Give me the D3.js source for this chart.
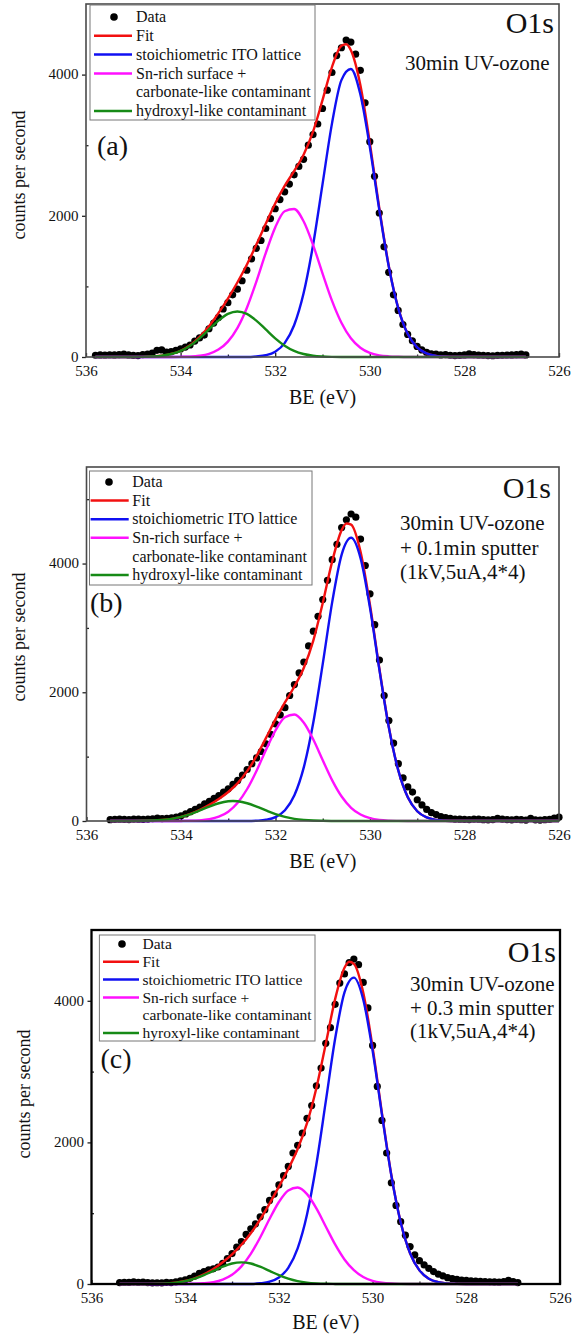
<!DOCTYPE html>
<html>
<head>
<meta charset="utf-8">
<script src="https://cdn.jsdelivr.net/npm/d3@7"></script>
<style>
  body { margin: 0; background: #fff; }
  svg { display: block; }
  text { font-family: "Liberation Serif", "Times New Roman", serif; fill: #111; }
</style>
</head>
<body>
<div id="chart"></div>
<script>
// ---- data ----
const xTicks = [536, 534, 532, 530, 528, 526];
const xMinorTicks = [535, 533, 531, 529, 527];
const yTicks = [0, 2000, 4000];

const legendA = ['Data', 'Fit', 'stoichiometric ITO lattice', 'Sn-rich surface +', 'carbonate-like contaminant', 'hydroxyl-like contaminant'];
const legendB = ['Data', 'Fit', 'stoichiometric ITO lattice', 'Sn-rich surface +', 'carbonate-like contaminant', 'hydroxyl-like contaminant'];
const legendC = ['Data', 'Fit', 'stoichiometric ITO lattice', 'Sn-rich surface +', 'carbonate-like contaminant', 'hyroxyl-like contaminant'];
const legendKeys = ['data', 'fit', 'lattice', 'snrich', null, 'hydroxyl'];

const notesA = ['30min UV-ozone'];
const notesB = ['30min UV-ozone', '+ 0.1min sputter', '(1kV,5uA,4*4)'];
const notesC = ['30min UV-ozone', '+ 0.3 min sputter', '(1kV,5uA,4*4)'];

// measured points: first binding energy, 0.1 eV channel step, counts per second
const startA = 535.8;
const cpsA = [25, 30, 28, 32, 30, 35, 42, 30, 22, 20,
  35, 40, 55, 95, 100, 70, 75, 95, 115, 140,
  170, 225, 270, 310, 400, 480, 560, 680, 770, 880,
  960, 1080, 1230, 1390, 1540, 1650, 1820, 1960, 2100, 2230,
  2340, 2450, 2580, 2700, 2800, 3000, 3150, 3300, 3520, 3780,
  4030, 4270, 4380, 4490, 4460, 4290, 4060, 3600, 3050, 2560,
  2040, 1560, 1200, 880, 660, 460, 320, 230, 150, 100,
  65, 45, 40, 30, 35, 25, 20, 22, 30, 45,
  35, 28, 25, 20, 18, 22, 25, 28, 30, 35,
  40, 30];

const startB = 535.5;
const cpsB = [20, 25, 28, 25, 22, 30, 28, 25, 30, 35,
  45, 38, 40, 50, 62, 80, 110, 145, 180, 215,
  265, 305, 350, 395, 450, 500, 570, 630, 715, 800,
  890, 980, 1080, 1200, 1345, 1510, 1650, 1760, 1950, 2120,
  2300, 2470, 2720, 2950, 3180, 3440, 3740, 4060, 4300, 4560,
  4680, 4770, 4720, 4380, 3970, 3530, 3050, 2500, 1950, 1560,
  1210, 890, 670, 530, 450, 330, 250, 180, 130, 100,
  70, 52, 40, 30, 28, 25, 22, 30, 28, 20,
  18, 22, 40, 30, 22, 18, 25, 20, 15, 40,
  18, 15, 20, 25, 45, 60];

const startC = 535.4;
const cpsC = [20, 25, 22, 30, 25, 28, 20, 15, 18, 15,
  22, 20, 30, 45, 60, 80, 110, 150, 175, 200,
  215, 240, 290, 360, 430, 520, 600, 700, 780, 850,
  950, 1050, 1180, 1270, 1400, 1530, 1660, 1850, 1960, 2130,
  2340, 2520, 2800, 3050, 3400, 3620, 3950, 4250, 4380, 4540,
  4590, 4510, 4260, 3900, 3370, 2790, 2310, 1850, 1430, 1110,
  880, 690, 530, 410, 330, 270, 220, 175, 140, 115,
  90, 75, 65, 55, 50, 45, 40, 38, 35, 32,
  30, 28, 35, 50, 35, 20];

// fitted curves as [BE, cps] pairs
const fitA = [[535.8,0],[535.2,0],[535.0,1],[534.8,2],[534.6,7],[534.4,18],[534.2,43],[534.0,89],[533.8,167],[533.6,283],[533.4,436],[533.2,621],[533.0,828],[532.8,1055],[532.6,1307],[532.4,1589],[532.2,1888],[532.0,2175],[531.8,2423],[531.6,2634],[531.4,2866],[531.2,3192],[531.0,3638],[530.8,4107],[530.6,4408],[530.5,4430],[530.4,4345],[530.2,3853],[530.0,3036],[529.8,2112],[529.6,1294],[529.4,696],[529.2,328],[529.0,136],[528.8,50],[528.6,16],[528.4,4],[528.2,0],[526.7,0]];
const latticeA = [[535.8,0],[532.6,0],[532.4,8],[532.2,25],[532.0,75],[531.8,197],[531.6,450],[531.4,902],[531.2,1585],[531.0,2445],[530.8,3306],[530.6,3922],[530.4,4079],[530.2,3721],[530.0,2977],[529.8,2088],[529.6,1285],[529.4,693],[529.2,328],[529.0,136],[528.8,50],[528.6,16],[528.4,4],[528.2,0],[526.7,0]];
const snrichA = [[535.8,0],[534.2,0],[534.0,2],[533.8,6],[533.6,18],[533.4,45],[533.2,105],[533.0,218],[532.8,410],[532.6,695],[532.4,1065],[532.2,1472],[532.0,1835],[531.8,2065],[531.6,2097],[531.4,1922],[531.2,1589],[531.0,1186],[530.8,799],[530.6,486],[530.4,266],[530.2,132],[530.0,59],[529.8,24],[529.6,9],[529.4,3],[529.2,0],[526.7,0]];
const hydroxylA = [[535.8,0],[535.2,0],[535.0,1],[534.8,2],[534.6,7],[534.4,18],[534.2,42],[534.0,87],[533.8,161],[533.6,265],[533.4,391],[533.2,516],[533.0,610],[532.8,645],[532.6,610],[532.4,516],[532.2,391],[532.0,265],[531.8,161],[531.6,87],[531.4,42],[531.2,18],[531.0,7],[530.8,2],[530.6,0],[526.7,0]];

const fitB = [[535.5,0],[535.2,0],[535.0,1],[534.8,3],[534.6,7],[534.4,17],[534.2,34],[534.0,65],[533.8,111],[533.6,174],[533.4,252],[533.2,343],[533.0,451],[532.8,589],[532.6,774],[532.4,1011],[532.2,1291],[532.0,1578],[531.8,1842],[531.6,2089],[531.4,2381],[531.2,2803],[531.0,3388],[530.8,4034],[530.6,4519],[530.5,4623],[530.4,4605],[530.2,4184],[530.0,3355],[529.8,2361],[529.6,1455],[529.4,784],[529.2,369],[529.0,152],[528.8,55],[528.6,17],[528.4,5],[528.2,0],[526.0,0]];
const latticeB = [[535.5,0],[532.6,0],[532.4,5],[532.2,19],[532.0,61],[531.8,167],[531.6,400],[531.4,837],[531.2,1530],[531.0,2441],[530.8,3401],[530.6,4139],[530.4,4400],[530.2,4084],[530.0,3311],[529.8,2344],[529.6,1449],[529.4,782],[529.2,369],[529.0,152],[528.8,55],[528.6,17],[528.4,5],[528.2,0],[526.0,0]];
const snrichB = [[535.5,0],[534.2,0],[534.0,1],[533.8,3],[533.6,10],[533.4,28],[533.2,67],[533.0,145],[532.8,283],[532.6,497],[532.4,782],[532.2,1108],[532.0,1409],[531.8,1611],[531.6,1655],[531.4,1527],[531.2,1266],[531.0,944],[530.8,632],[530.6,380],[530.4,205],[530.2,100],[530.0,44],[529.8,17],[529.6,6],[529.4,2],[529.2,0],[526.0,0]];
const hydroxylB = [[535.5,0],[535.2,0],[535.0,1],[534.8,3],[534.6,7],[534.4,17],[534.2,34],[534.0,64],[533.8,108],[533.6,164],[533.4,224],[533.2,276],[533.0,306],[532.9,310],[532.8,306],[532.6,276],[532.4,224],[532.2,164],[532.0,108],[531.8,64],[531.6,34],[531.4,17],[531.2,7],[531.0,3],[530.8,1],[530.6,0],[526.0,0]];

const fitC = [[535.4,0],[535.0,0],[534.8,1],[534.6,3],[534.4,9],[534.2,20],[534.0,42],[533.8,80],[533.6,136],[533.4,212],[533.2,307],[533.0,420],[532.8,554],[532.6,717],[532.4,911],[532.2,1135],[532.0,1375],[531.8,1626],[531.6,1907],[531.4,2271],[531.2,2769],[531.0,3391],[530.8,4024],[530.6,4466],[530.5,4551],[530.4,4522],[530.2,4117],[530.0,3342],[529.8,2411],[529.6,1540],[529.4,871],[529.2,435],[529.0,193],[528.8,75],[528.6,26],[528.4,8],[528.2,2],[528.0,0],[526.9,0]];
const latticeC = [[535.4,0],[532.6,0],[532.4,10],[532.2,32],[532.0,92],[531.8,229],[531.6,504],[531.4,982],[531.2,1692],[531.0,2575],[530.8,3464],[530.6,4119],[530.4,4327],[530.2,4018],[530.0,3297],[529.8,2392],[529.6,1533],[529.4,869],[529.2,435],[529.0,193],[528.8,75],[528.6,26],[528.4,8],[528.2,2],[528.0,0],[526.9,0]];
const snrichC = [[535.4,0],[534.2,0],[534.0,1],[533.8,4],[533.6,11],[533.4,27],[533.2,63],[533.0,131],[532.8,249],[532.6,425],[532.4,657],[532.2,918],[532.0,1158],[531.8,1321],[531.6,1362],[531.4,1269],[531.2,1068],[531.0,813],[530.8,559],[530.6,347],[530.4,195],[530.2,99],[530.0,45],[529.8,19],[529.6,7],[529.4,2],[529.2,0],[526.9,0]];
const hydroxylC = [[535.4,0],[535.0,0],[534.8,1],[534.6,3],[534.4,9],[534.2,20],[534.0,41],[533.8,76],[533.6,125],[533.4,185],[533.2,244],[533.0,289],[532.8,305],[532.6,289],[532.4,244],[532.2,185],[532.0,125],[531.8,76],[531.6,41],[531.4,20],[531.2,9],[531.0,3],[530.8,1],[530.6,0],[526.9,0]];

// ---- styles ----
const colors = { fit: '#f21010', lattice: '#1010f2', snrich: '#ff10ff', hydroxyl: '#168a16' };

const W = 572, H = 1335;
const svg = d3.select('#chart').append('svg').attr('width', W).attr('height', H);
svg.append('rect').attr('width', W).attr('height', H).attr('fill', '#fff');

const panels = [
  { tag: '(a)', start: startA, cps: cpsA, fit: fitA, lattice: latticeA, snrich: snrichA, hydroxyl: hydroxylA,
    legend: legendA, notes: notesA, yMax: 5000, minorY: [1000, 3000],
    left: 86, right: 559, top: 4, bottom: 357, frame: '#4a4a4a', frameW: 1.6,
    box: [90, 5, 225, 115], row0: 17, rowStep: 18.8, lineX: [94, 132], dotX: 114, textX: 136, legendSize: 16,
    o1s: [554, 33], noteX: 405, note0: 70, noteStep: 24, tagPos: [97, 155], yLab: [25, 175], xLabY: 404 },
  { tag: '(b)', start: startB, cps: cpsB, fit: fitB, lattice: latticeB, snrich: snrichB, hydroxyl: hydroxylB,
    legend: legendB, notes: notesB, yMax: 5500, minorY: [1000, 3000, 5000],
    left: 86.5, right: 559, top: 467, bottom: 821, frame: '#4a4a4a', frameW: 1.6,
    box: [89.5, 471, 222.5, 114], row0: 482, rowStep: 18.6, lineX: [90.6, 128.7], dotX: 109, textX: 132.3, legendSize: 16,
    o1s: [551, 498], noteX: 400, note0: 530, noteStep: 24.5, tagPos: [90, 612], yLab: [25, 637], xLabY: 868 },
  { tag: '(c)', start: startC, cps: cpsC, fit: fitC, lattice: latticeC, snrich: snrichC, hydroxyl: hydroxylC,
    legend: legendC, notes: notesC, yMax: 5000, minorY: [1000, 3000],
    left: 91.5, right: 560, top: 930, bottom: 1284, frame: '#000', frameW: 2.3,
    box: [99.4, 935, 215.6, 106], row0: 944, rowStep: 17.8, lineX: [103, 139], dotX: 122, textX: 142.5, legendSize: 15.5,
    o1s: [556, 962], noteX: 410, note0: 991, noteStep: 23.5, tagPos: [100.5, 1068], yLab: [30, 1094], xLabY: 1329 }
];

function styleAxis(g) {
  g.select('.domain').remove();
  g.selectAll('line').attr('stroke', '#222').attr('stroke-width', 1.3);
  g.selectAll('text').attr('font-family', '"Liberation Serif", serif').attr('font-size', 15).attr('fill', '#222');
}

function drawPanel(p) {
  const x = d3.scaleLinear().domain([536, 526]).range([p.left, p.right]);
  const y = d3.scaleLinear().domain([0, p.yMax]).range([p.bottom, p.top]);
  const g = svg.append('g');

  // axes
  g.append('g').attr('transform', `translate(0,${p.bottom})`)
    .call(d3.axisBottom(x).tickValues(xTicks).tickSize(-4).tickPadding(8).tickFormat(d3.format('d')))
    .call(styleAxis);
  g.append('g').attr('transform', `translate(0,${p.bottom})`)
    .call(d3.axisBottom(x).tickValues(xMinorTicks).tickSize(-2.5).tickFormat(''))
    .call(styleAxis);
  const yAxis = g.append('g').attr('transform', `translate(${p.left},0)`)
    .call(d3.axisLeft(y).tickValues(yTicks).tickSize(4).tickPadding(3.5).tickFormat(d3.format('d')))
    .call(styleAxis);
  yAxis.selectAll('text').attr('dy', '0.28em');
  g.append('g').attr('transform', `translate(${p.left},0)`)
    .call(d3.axisLeft(y).tickValues(p.minorY).tickSize(-2.5).tickFormat(''))
    .call(styleAxis);

  // data points
  const pts = p.cps.map((v, i) => [p.start - i * 0.1, v]);
  g.append('g').selectAll('circle').data(pts).join('circle')
    .attr('cx', d => x(d[0])).attr('cy', d => y(d[1])).attr('r', 3.6).attr('fill', '#000');

  // fitted curves
  const line = d3.line().x(d => x(d[0])).y(d => y(d[1])).curve(d3.curveMonotoneX);
  ['fit', 'lattice', 'snrich', 'hydroxyl'].forEach(k => {
    g.append('path').datum(p[k]).attr('d', line).attr('fill', 'none')
      .attr('stroke', colors[k]).attr('stroke-width', 2.4).attr('stroke-linejoin', 'round');
  });

  // frame
  g.append('rect').attr('x', p.left).attr('y', p.top)
    .attr('width', p.right - p.left).attr('height', p.bottom - p.top)
    .attr('fill', 'none').attr('stroke', p.frame).attr('stroke-width', p.frameW);

  // legend
  const [bx, by, bw, bh] = p.box;
  g.append('rect').attr('x', bx).attr('y', by).attr('width', bw).attr('height', bh)
    .attr('fill', '#fff').attr('stroke', '#777').attr('stroke-width', 1);
  p.legend.forEach((label, i) => {
    const cy = p.row0 + i * p.rowStep;
    const key = legendKeys[i];
    if (key === 'data') {
      g.append('circle').attr('cx', p.dotX).attr('cy', cy).attr('r', 3.8).attr('fill', '#000');
    } else if (key) {
      g.append('line').attr('x1', p.lineX[0]).attr('x2', p.lineX[1]).attr('y1', cy).attr('y2', cy)
        .attr('stroke', colors[key]).attr('stroke-width', 2.5);
    }
    g.append('text').attr('x', p.textX).attr('y', cy).attr('dy', '0.33em')
      .attr('font-size', p.legendSize).text(label);
  });

  // annotations
  g.append('text').attr('x', p.o1s[0]).attr('y', p.o1s[1]).attr('text-anchor', 'end')
    .attr('font-size', 30).text('O1s');
  p.notes.forEach((t, i) => {
    g.append('text').attr('x', p.noteX).attr('y', p.note0 + i * p.noteStep)
      .attr('font-size', 21).text(t);
  });
  g.append('text').attr('x', p.tagPos[0]).attr('y', p.tagPos[1]).attr('font-size', 28).text(p.tag);

  // axis titles
  g.append('text').attr('transform', `translate(${p.yLab[0]},${p.yLab[1]}) rotate(-90)`)
    .attr('text-anchor', 'middle').attr('font-size', 18).text('counts per second');
  g.append('text').attr('x', (p.left + p.right) / 2).attr('y', p.xLabY)
    .attr('text-anchor', 'middle').attr('font-size', 20).text('BE (eV)');
}

panels.forEach(drawPanel);
</script>
</body>
</html>
